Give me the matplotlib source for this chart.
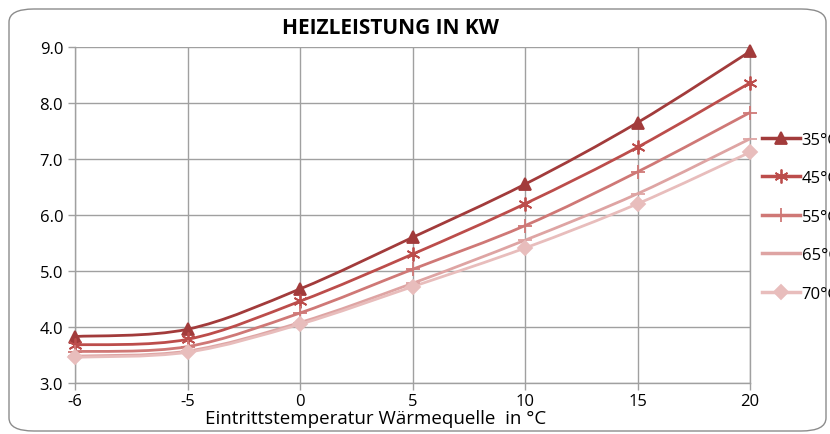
import matplotlib
matplotlib.use("Agg")
import matplotlib.pyplot as plt
from matplotlib.path import Path
from matplotlib.patches import PathPatch, FancyBboxPatch
from matplotlib.lines import Line2D
import numpy as np

plt.rcParams['font.family'] = ['Open Sans', 'DejaVu Sans']

quelle = ['-6', '-5', '0', '5', '10', '15', '20']
heiz_35 = [3.83, 3.96, 4.68, 5.60, 6.55, 7.65, 8.92]
heiz_45 = [3.68, 3.78, 4.46, 5.30, 6.20, 7.21, 8.36]
heiz_55 = [3.56, 3.65, 4.25, 5.03, 5.81, 6.77, 7.83]
heiz_65 = [3.48, 3.57, 4.08, 4.78, 5.55, 6.38, 7.36]
heiz_70 = [3.46, 3.55, 4.05, 4.72, 5.41, 6.20, 7.12]

labels = ['35°C', '45°C', '55°C', '65°C', '70°C']
serien = [heiz_35, heiz_45, heiz_55, heiz_65, heiz_70]
farben = ['#A23B3B', '#BC4D4B', '#CF7876', '#DEA4A3', '#E8BDBC']
marker = ['^', (6, 2, 0), '+', '_', 'D']
msize = [9, 10, 10, 10, 7]


def glatt(xs, ys):
    # excel-artige geglaettete linie (catmull-rom als bezier)
    pts = np.column_stack([xs, ys])
    verts = [pts[0]]
    codes = [Path.MOVETO]
    n = len(pts)
    for i in range(n - 1):
        p0 = pts[i - 1] if i > 0 else pts[i]
        p1 = pts[i]
        p2 = pts[i + 1]
        p3 = pts[i + 2] if i + 2 < n else pts[i + 1]
        c1 = p1 + (p2 - p0) / 6.0
        c2 = p2 - (p3 - p1) / 6.0
        verts += [c1, c2, p2]
        codes += [Path.CURVE4] * 3
    return Path(verts, codes)


fig = plt.figure(figsize=(8.3, 4.35), dpi=100)
rahmen = FancyBboxPatch((9 / 830, 3 / 435), 817 / 830, 422 / 435,
                        boxstyle="round,pad=0,rounding_size=0.03",
                        transform=fig.transFigure, facecolor='none',
                        edgecolor='#8c8c8c', linewidth=1.0, zorder=-1)
fig.patches.append(rahmen)

ax = fig.add_axes([75 / 830, 51 / 435, 675 / 830, 336 / 435])
ax.set_facecolor('none')
x = np.arange(len(quelle))

handles = []
for werte, farbe, m, ms, lab in zip(serien, farben, marker, msize, labels):
    ax.add_patch(PathPatch(glatt(x, werte), facecolor='none', edgecolor=farbe,
                           linewidth=2.0, zorder=3, clip_on=False))
    ax.plot(x, werte, linestyle='none', marker=m, markersize=ms, color=farbe,
            markeredgewidth=1.3, zorder=4, clip_on=False)
    handles.append(Line2D([], [], color=farbe, linewidth=2.5, marker=m,
                          markersize=ms, markeredgewidth=1.3))

ax.set_xlim(0, len(quelle) - 1)
ax.set_ylim(3.0, 9.0)
ax.set_xticks(x)
ax.set_xticklabels(quelle)
ax.set_yticks(np.arange(3.0, 9.01, 1.0))
ax.set_yticklabels(['%.1f' % v for v in np.arange(3.0, 9.01, 1.0)])
ax.grid(True, color='#a0a0a0', linewidth=1.0)
ax.set_axisbelow(True)
for s in ax.spines.values():
    s.set_color('#a0a0a0')
    s.set_linewidth(1.0)
ax.spines['top'].set_visible(False)
ax.tick_params(axis='both', colors='#a0a0a0', labelcolor='black', labelsize=12,
               length=5, width=1.0, direction='out')
ax.tick_params(axis='x', pad=2)

fig.text(390 / 830, 1 - 29 / 435, 'HEIZLEISTUNG IN KW', ha='center', va='center',
         fontsize=15, fontweight='bold')
fig.text(376 / 830, 1 - 419 / 435, 'Eintrittstemperatur Wärmequelle  in °C',
         ha='center', va='center', fontsize=13.5)

fig.legend(handles, labels, loc='upper left', bbox_to_anchor=(755 / 830, 1 - 126 / 435),
           frameon=False, fontsize=12, handlelength=2.3, handletextpad=0.1,
           labelspacing=1.35, borderaxespad=0)

fig.savefig('out.png', dpi=100)
